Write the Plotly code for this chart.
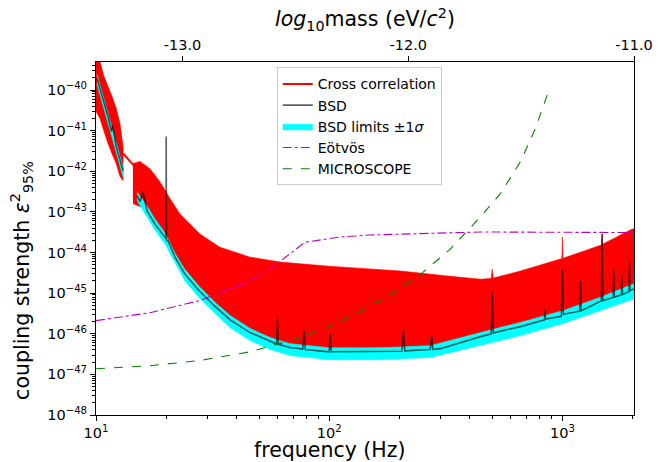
import plotly.graph_objects as go

# ---------------- data ----------------
# Cross correlation: envelope of the dense red curve, segment 1 (10-13 Hz)
cc1_f = [10.0, 10.4, 10.8, 11.26, 11.7, 12.2, 12.67, 13.06]
cc1_hi = [5.1e-40, 5.0e-40, 2.2e-40, 1.23e-40, 7.1e-41, 3.6e-41, 1.5e-41, 4.1e-42]
cc1_lo = [3.0e-41, 2.0e-41, 1.0e-41, 4.8e-42, 2.75e-42, 1.55e-42, 7.4e-43, 5.9e-43]
# connecting line
ccl_f = [13.06, 14.5]
ccl_v = [2.75e-42, 1.4e-42]
# segment 2 (14 Hz - 2 kHz)
cc2_hi_f = [14.4, 15.45, 17.05, 18.8, 20.8, 22.9, 27.9, 34.0, 45.8, 61.6, 100, 202, 330,
            445, 495, 500, 505, 661, 980, 995, 1000, 1005, 1456, 1475, 1480, 1485, 1995, 2050]
cc2_hi = [1.55e-42, 1.75e-42, 1.15e-42, 5.5e-43, 2.1e-43, 8.9e-44, 2.85e-44, 1.35e-44, 7.7e-45,
          5.8e-45, 4.6e-45, 3.5e-45, 2.6e-45, 2.2e-45, 2.3e-45, 3.9e-45, 2.35e-45, 3.5e-45,
          6.9e-45, 7.0e-45, 2.4e-44, 7.2e-45, 1.5e-44, 1.55e-44, 2.85e-44, 1.6e-44, 3.8e-44, 3.8e-44]
cc2_lo_f = [14.4, 17.05, 18.8, 20.8, 24.1, 27.9, 37.6, 45.8, 68, 100, 271, 445, 1010, 1995, 2050]
cc2_lo = [1.6e-43, 1.06e-43, 2.6e-44, 1.2e-44, 3.9e-45, 1.4e-45, 2.5e-46, 1.25e-46, 5.4e-47,
          4.3e-47, 4.8e-47, 1.07e-46, 3.5e-46, 1.48e-45, 1.5e-45]

# BSD line
bsd1_f = [10.1, 10.7, 11.26, 11.65, 11.8, 12.2, 13.06]
bsd1_v = [1.95e-40, 6.3e-41, 2.24e-41, 9.5e-42, 1.35e-41, 4.1e-42, 1.03e-42]
bsd2_f = [15.0, 15.45, 15.9, 16.56, 17.9, 18.8, 19.8, 19.95, 20.0, 20.05, 20.4, 21.8, 24.1,
          27.9, 32.4, 37.6, 45.8, 55.8, 59.5, 60.0, 60.5, 68, 77, 78, 79, 100, 101, 102,
          165, 205, 208, 211, 271, 275, 278, 300, 445, 495, 500, 505, 661, 838, 842, 846,
          990, 1000, 1010, 1185, 1195, 1205, 1456, 1470, 1480, 1490, 1650, 1660, 1670,
          1790, 1800, 1810, 1930, 1940, 1950, 1995, 2050]
bsd2_v = [2.5e-43, 1.8e-43, 3.2e-43, 1.05e-43, 5.0e-44, 3.4e-44, 2.4e-44, 2.2e-44, 7.2e-42,
          2.0e-44, 1.9e-44, 7.7e-45, 2.9e-45, 1.1e-45, 4.7e-46, 2.2e-46, 1.07e-46, 6.5e-47,
          5.6e-47, 2.5e-46, 5.5e-47, 4.6e-47, 4.2e-47, 1.2e-46, 4.1e-47, 3.6e-47, 1.0e-46,
          3.6e-47, 3.6e-47, 3.7e-47, 1.2e-46, 3.8e-47, 4.1e-47, 9.0e-47, 4.1e-47, 4.3e-47,
          8.5e-47, 1.0e-46, 1.1e-45, 1.05e-46, 1.5e-46, 2.2e-46, 4.0e-46, 2.3e-46,
          2.7e-46, 3.9e-45, 3.0e-46, 3.6e-46, 1.95e-45, 3.7e-46, 6.3e-46, 6.3e-46, 2.85e-44,
          6.5e-46, 7.8e-46, 3.9e-45, 8.0e-46, 9.0e-46, 2.6e-45, 9.2e-46, 1.1e-45, 6.2e-45,
          1.15e-45, 1.23e-45, 1.25e-45]

# BSD limits +-1 sigma
sig1_f = [10.1, 10.7, 11.26, 11.7, 12.2, 13.06]
sig1_hi = [2.46e-40, 7.9e-41, 2.8e-41, 1.2e-41, 5.1e-42, 1.3e-42]
sig1_lo = [1.4e-40, 4.5e-41, 1.6e-41, 6.8e-42, 2.9e-42, 7.3e-43]
sig2_f = [15.0, 16.56, 17.9, 19.8, 21.8, 24.1, 27.9, 32.4, 37.6, 45.8, 55.8, 68, 100, 165,
          271, 445, 661, 1010, 1456, 1995, 2050]
sig2_hi = [3.1e-43, 1.4e-43, 6.7e-44, 3.0e-44, 9.7e-45, 3.7e-45, 1.4e-45, 5.9e-46, 2.8e-46,
           1.35e-46, 8.0e-47, 5.7e-47, 4.5e-47, 4.5e-47, 5.1e-47, 1.07e-46, 1.9e-46, 3.75e-46,
           7.9e-46, 1.65e-45, 1.7e-45]
sig2_lo = [1.9e-43, 7.5e-44, 3.6e-44, 1.6e-44, 5.5e-45, 1.96e-45, 7.4e-46, 3.2e-46, 1.4e-46,
           6.8e-47, 4.1e-47, 2.9e-47, 2.3e-47, 2.3e-47, 2.6e-47, 5.1e-47, 9.0e-47, 1.8e-46,
           3.75e-46, 7.0e-46, 7.2e-46]

# Eot-Wash (Eotvos) limit
eot_f = [10.0, 17.05, 27.9, 45.8, 61.6, 78.9, 111, 150, 445, 980, 2050]
eot_v = [2.1e-46, 3.3e-46, 6.6e-46, 1.96e-45, 6.1e-45, 1.8e-44, 2.4e-44, 2.7e-44, 3.2e-44,
         3.2e-44, 3.1e-44]

# MICROSCOPE limit
mic_f = [10.0, 17.05, 27.9, 45.8, 75.1, 100, 135.9, 182.8, 246, 330, 445, 542, 661, 766, 863]
mic_v = [1.38e-47, 1.63e-47, 2.2e-47, 3.6e-47, 8.0e-47, 1.5e-46, 3.5e-46, 9.3e-46, 2.9e-45,
         1.2e-44, 7.5e-44, 2.8e-43, 1.73e-42, 1.13e-41, 7.9e-41]

# axis ticks
x_ticks = [10, 100, 1000]
x_ticktext = ["10<sup>1</sup>", "10<sup>2</sup>", "10<sup>3</sup>"]
y_exps = [-48, -47, -46, -45, -44, -43, -42, -41, -40]
top_ticks = [-13.0, -12.0, -11.0]
top_ticktext = ["-13.0", "-12.0", "-11.0"]
top_range = [-13.383, -11.0]

# ---------------- figure ----------------
RED = "#ff0000"
CYAN = "#00ffff"
fig = go.Figure()


def band(f_hi, v_hi, f_lo, v_lo, color, name, show, rank):
    fig.add_trace(go.Scatter(
        x=list(f_hi) + list(f_lo)[::-1], y=list(v_hi) + list(v_lo)[::-1],
        fill="toself", fillcolor=color, mode="lines", line=dict(color=color, width=0.6),
        name=name, showlegend=show, legendrank=rank, hoverinfo="skip"))


band(cc1_f, cc1_hi, cc1_f, cc1_lo, RED, "cc", False, 10)
band(cc2_hi_f, cc2_hi, cc2_lo_f, cc2_lo, RED, "cc", False, 10)
fig.add_trace(go.Scatter(x=ccl_f, y=ccl_v, mode="lines", line=dict(color=RED, width=2),
                         name="Cross correlation", legendrank=1))
band(sig1_f, sig1_hi, sig1_f, sig1_lo, CYAN, "BSD limits ±1<i>σ</i>", True, 3)
band(sig2_f, sig2_hi, sig2_f, sig2_lo, CYAN, "sig", False, 10)
fig.add_trace(go.Scatter(x=bsd1_f + [None] + bsd2_f, y=bsd1_v + [None] + bsd2_v, mode="lines",
                         line=dict(color="rgba(0,0,0,0.62)", width=1.6), name="BSD",
                         legendrank=2))
fig.add_trace(go.Scatter(x=eot_f, y=eot_v, mode="lines",
                         line=dict(color="#bf00bf", width=1.1, dash="dashdot"),
                         name="Eötvös", legendrank=4))
fig.add_trace(go.Scatter(x=mic_f, y=mic_v, mode="lines",
                         line=dict(color="#008000", width=1.1, dash="dash"),
                         name="MICROSCOPE", legendrank=5))
# carrier trace for the top (mass) axis
fig.add_trace(go.Scatter(x=top_range, y=[1e-48, 1e-48], xaxis="x2", mode="markers",
                         marker=dict(opacity=0), showlegend=False, hoverinfo="skip"))

minor_x = [m * 10 ** d for d in (1, 2) for m in range(2, 10)] + [2000]
minor_y = [m * 10.0 ** d for d in range(-48, -39) for m in range(2, 10)]

axis_common = dict(showline=True, linecolor="black", linewidth=1.1, ticks="outside",
                   tickcolor="black", tickwidth=1.1, ticklen=5, showgrid=False,
                   zeroline=False, automargin=False, tickfont=dict(size=14.5, color="black"))

fig.update_layout(
    template="none",
    width=662, height=462,
    margin=dict(l=96, r=28, t=62, b=47, pad=0),
    paper_bgcolor="white", plot_bgcolor="white",
    font=dict(family="DejaVu Sans", size=13, color="black"),
    xaxis=dict(type="log", range=[1, 3.307], tickvals=x_ticks, ticktext=x_ticktext,
               minor=dict(tickmode="array", tickvals=minor_x, ticks="outside", ticklen=3,
                          tickcolor="black", tickwidth=0.8),
               **axis_common),
    xaxis2=dict(overlaying="x", side="top", anchor="y", range=top_range,
                tickvals=top_ticks, ticktext=top_ticktext,
                title=dict(text="<i>log</i><sub>10</sub>mass (eV/<i>c</i><sup>2</sup>)",
                           font=dict(size=20.5), standoff=4),
                **axis_common),
    yaxis=dict(type="log", range=[-48, -39.31], mirror=True,
               tickvals=[10.0 ** e for e in y_exps],
               ticktext=["10<sup>\u2212%d</sup>" % (-e) for e in y_exps],
               minor=dict(tickmode="array", tickvals=minor_y, ticks="outside", ticklen=2.5,
                          tickcolor="black", tickwidth=0.8),
               **axis_common),
    legend=dict(x=0.336, y=0.985, xanchor="left", yanchor="top", bgcolor="white",
                bordercolor="#cccccc", borderwidth=1, font=dict(size=14, color="black"),
                traceorder="normal", itemwidth=30, tracegroupgap=0),
    showlegend=True,
    annotations=[
        dict(text="coupling strength <i>ε</i><sup>2</sup><sub>95%</sub>",
             xref="paper", yref="paper", x=-0.1375, y=0.38, xanchor="center",
             yanchor="middle", textangle=-90, showarrow=False,
             font=dict(size=20.5, color="black")),
        dict(text="frequency (Hz)", xref="paper", yref="paper", x=0.435, y=-0.099,
             xanchor="center", yanchor="middle", showarrow=False,
             font=dict(size=20.5, color="black")),
    ],
)

fig.write_html("out.html", config={"displayModeBar": False},
               post_script="document.body.style.margin='0px';")
